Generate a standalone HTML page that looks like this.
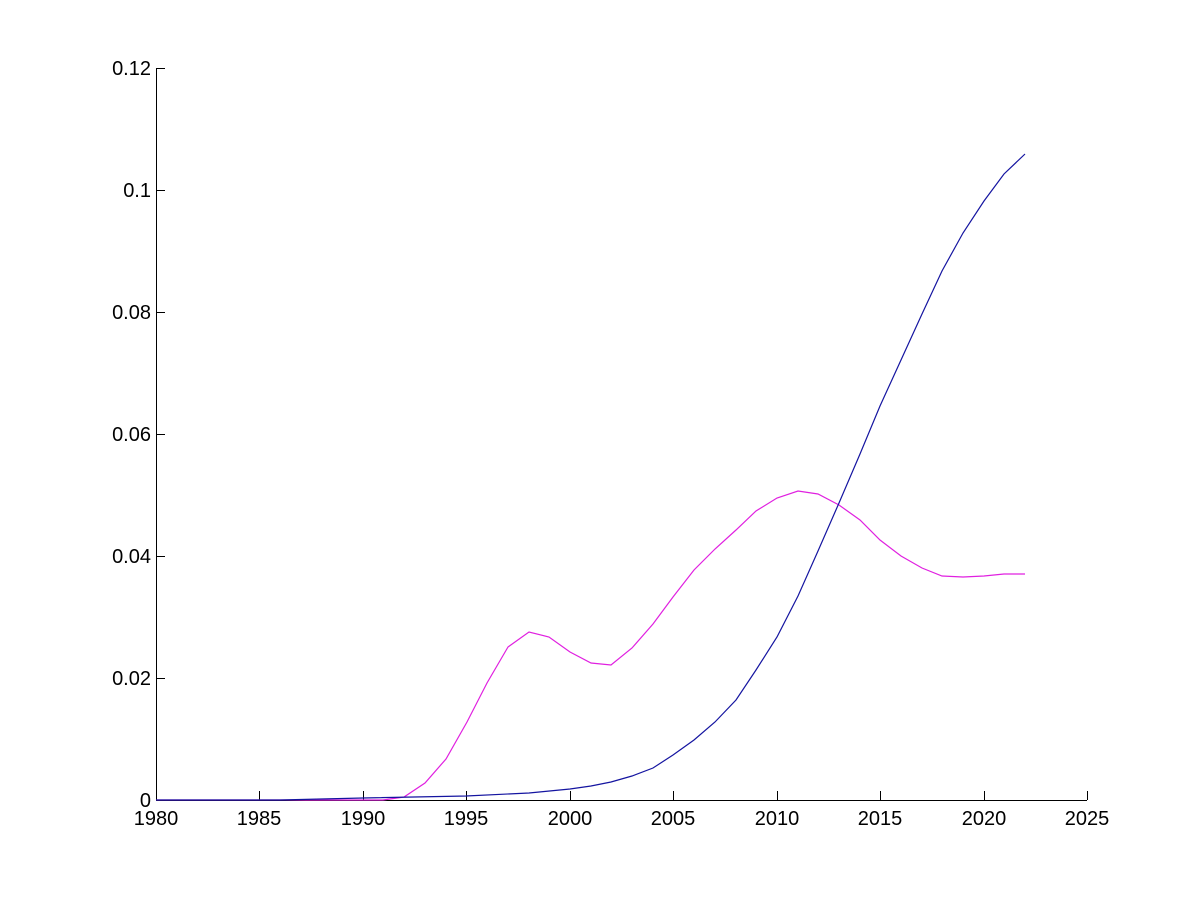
<!DOCTYPE html>
<html><head><meta charset="utf-8"><style>html,body{margin:0;padding:0;background:#fff}</style></head>
<body>
<svg width="1200" height="900" xmlns="http://www.w3.org/2000/svg" font-family="Liberation Sans, Arial, sans-serif" font-size="20">
<rect width="1200" height="900" fill="#fff"/>
<g stroke="#000" stroke-width="1" fill="none">
<path d="M156.5 68V800.5H1087"/>
<path d="M156 678.5h9M156 556.5h9M156 434.5h9M156 312.5h9M156 190.5h9M156 68.5h9"/>
<path d="M259.5 800v-9M363.5 800v-9M466.5 800v-9M570.5 800v-9M673.5 800v-9M777.5 800v-9M880.5 800v-9M984.5 800v-9M1087.5 800v-9"/>
</g>
<g text-anchor="end">
<text x="151" y="807">0</text><text x="151" y="685">0.02</text><text x="151" y="563">0.04</text><text x="151" y="441">0.06</text><text x="151" y="319">0.08</text><text x="151" y="197">0.1</text><text x="151" y="75">0.12</text>
</g>
<g text-anchor="middle">
<text x="156" y="825">1980</text><text x="259" y="825">1985</text><text x="363" y="825">1990</text><text x="466" y="825">1995</text><text x="570" y="825">2000</text><text x="673" y="825">2005</text><text x="777" y="825">2010</text><text x="880" y="825">2015</text><text x="984" y="825">2020</text><text x="1087" y="825">2025</text>
</g>
<polyline fill="none" stroke="#e020e0" stroke-width="1.2" points="156,800 383,800 404,797 425,783 446,759 467,722 487,683 508,647 529,632 549,637 570,652 591,663 611,665 632,648 653,624 673,597 694,570 715,549 736,530 756,511 777,498 798,491 818,494 839,505 860,520 880,540 901,556 922,568 942,576 963,577 984,576 1004,574 1025,574"/>
<polyline fill="none" stroke="#1414a0" stroke-width="1.2" points="156,800 280,800 363,798 466,796 529,793 570,789 591,786 611,782 632,776 653,768 673,755 694,740 715,722 736,700 756,670 777,637 798,596 818,551 839,503 860,454 880,406 901,360 922,314 942,271 963,233 984,201 1004,174 1025,154"/>
</svg>
</body></html>
